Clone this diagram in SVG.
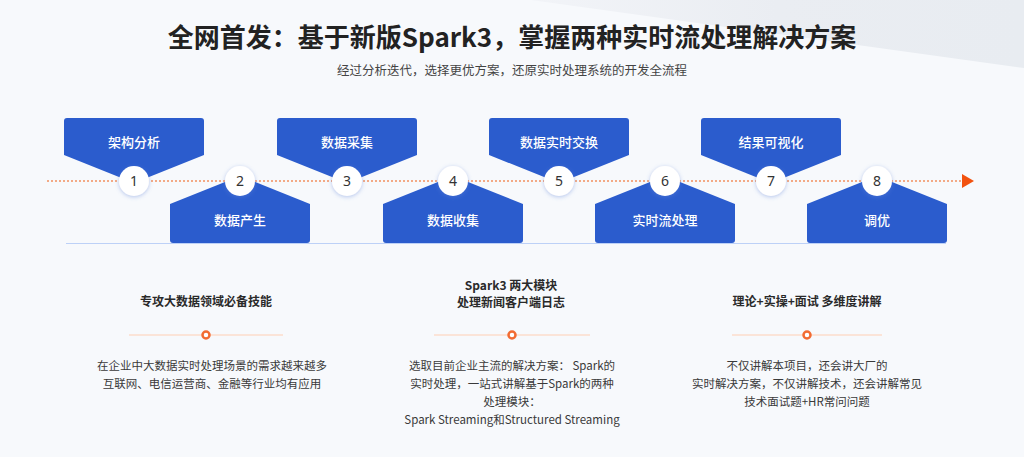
<svg xmlns="http://www.w3.org/2000/svg" xmlns:xlink="http://www.w3.org/1999/xlink" width="1024" height="457" viewBox="0 0 1024 457">
<style>
text{font-family:"Noto Sans CJK SC","Noto Sans",sans-serif;}
.lbl{fill:#ffffff;font-size:13px;font-weight:500;text-anchor:middle;}
.num{fill:#333333;font-size:14px;text-anchor:middle;font-family:"Noto Sans","Liberation Sans",sans-serif;}
.box{fill:#2b5ccd;}
.dot{fill:#ffffff;filter:url(#sh);}
.h{fill:#2a2a2a;font-size:12px;font-weight:700;text-anchor:middle;}
.b{fill:#3a3a3a;font-size:11.5px;text-anchor:middle;}
.div{stroke:#fcdccd;stroke-width:1.5;}
.ring{fill:#ffffff;stroke:#f26b32;stroke-width:2.5;}
</style>
<defs>
<filter id="sh" x="-50%" y="-50%" width="200%" height="200%">
<feDropShadow dx="0" dy="1" stdDeviation="2" flood-color="#5d82d8" flood-opacity="0.45"/>
</filter>
<linearGradient id="tg" x1="0" y1="0" x2="1" y2="0">
<stop offset="0" stop-color="#f2f4f8"/>
<stop offset="0.5" stop-color="#eaedf2"/>
<stop offset="1" stop-color="#e8ecf1"/>
</linearGradient>
<path id="up" d="M-67,118 H67 Q70,118 70,121 V155 L0,183 L-70,155 V121 Q-70,118 -67,118 Z"/>
<path id="dn" d="M0,176 L70,204 V240 Q70,243 67,243 H-67 Q-70,243 -70,240 V204 Z"/>
</defs>
<rect width="1024" height="457" fill="#f7f9fc"/>
<polygon points="531,0 1024,0 1024,68" fill="url(#tg)"/>
<text x="512" y="47" style="font-size:26px;font-weight:700;fill:#222222;text-anchor:middle;">全网首发：基于新版Spark3，掌握两种实时流处理解决方案</text>
<text x="512" y="75" style="font-size:12.5px;fill:#444444;text-anchor:middle;">经过分析迭代，选择更优方案，还原实时处理系统的开发全流程</text>
<g id="connectors">
<line x1="66" y1="243.5" x2="946" y2="243.5" stroke="#bdd1f7" stroke-width="1.2"/>
<line x1="47" y1="181" x2="962" y2="181" stroke="#f2905f" stroke-width="1.5" stroke-dasharray="2,2"/>
<polygon points="962,174 974,181 962,188" fill="#f2520f"/>
</g>
<g id="node1" transform="translate(134,0)"><use xlink:href="#up" class="box"/><text class="lbl" y="147">架构分析</text><circle class="dot" cy="181" r="15"/><text class="num" y="186">1</text></g>
<g id="node2" transform="translate(240,0)"><use xlink:href="#dn" class="box"/><text class="lbl" y="225">数据产生</text><circle class="dot" cy="181" r="15"/><text class="num" y="186">2</text></g>
<g id="node3" transform="translate(347,0)"><use xlink:href="#up" class="box"/><text class="lbl" y="147">数据采集</text><circle class="dot" cy="181" r="15"/><text class="num" y="186">3</text></g>
<g id="node4" transform="translate(453,0)"><use xlink:href="#dn" class="box"/><text class="lbl" y="225">数据收集</text><circle class="dot" cy="181" r="15"/><text class="num" y="186">4</text></g>
<g id="node5" transform="translate(559,0)"><use xlink:href="#up" class="box"/><text class="lbl" y="147">数据实时交换</text><circle class="dot" cy="181" r="15"/><text class="num" y="186">5</text></g>
<g id="node6" transform="translate(665,0)"><use xlink:href="#dn" class="box"/><text class="lbl" y="225">实时流处理</text><circle class="dot" cy="181" r="15"/><text class="num" y="186">6</text></g>
<g id="node7" transform="translate(771,0)"><use xlink:href="#up" class="box"/><text class="lbl" y="147">结果可视化</text><circle class="dot" cy="181" r="15"/><text class="num" y="186">7</text></g>
<g id="node8" transform="translate(877,0)"><use xlink:href="#dn" class="box"/><text class="lbl" y="225">调优</text><circle class="dot" cy="181" r="15"/><text class="num" y="186">8</text></g>
<g id="col1">
<text class="h" x="206" y="306">专攻大数据领域必备技能</text>
<line class="div" x1="129" y1="335" x2="283" y2="335"/>
<circle class="ring" cx="206" cy="335" r="3.5"/>
<text class="b" x="212" y="370">在企业中大数据实时处理场景的需求越来越多</text>
<text class="b" x="212" y="388">互联网、电信运营商、金融等行业均有应用</text>
</g>
<g id="col2">
<text class="h" x="511" y="290">Spark3 两大模块</text>
<text class="h" x="511" y="307">处理新闻客户端日志</text>
<line class="div" x1="434" y1="335" x2="590" y2="335"/>
<circle class="ring" cx="512" cy="335" r="3.5"/>
<text class="b" x="512" y="370">选取目前企业主流的解决方案： Spark的</text>
<text class="b" x="512" y="388">实时处理，一站式讲解基于Spark的两种</text>
<text class="b" x="512" y="406">处理模块：</text>
<text class="b" x="512" y="424">Spark Streaming和Structured Streaming</text>
</g>
<g id="col3">
<text class="h" x="807" y="306">理论+实操+面试 多维度讲解</text>
<line class="div" x1="732" y1="335" x2="882" y2="335"/>
<circle class="ring" cx="807" cy="335" r="3.5"/>
<text class="b" x="807" y="370">不仅讲解本项目，还会讲大厂的</text>
<text class="b" x="807" y="388">实时解决方案，不仅讲解技术，还会讲解常见</text>
<text class="b" x="807" y="406">技术面试题+HR常问问题</text>
</g>
</svg>
